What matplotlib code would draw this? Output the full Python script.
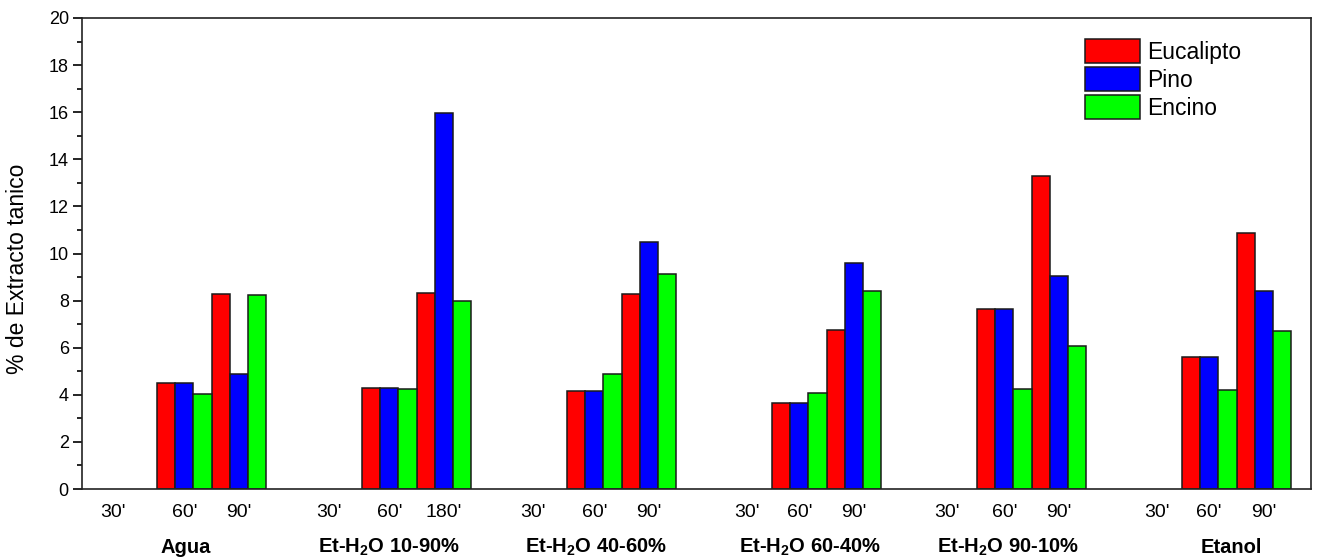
import matplotlib
matplotlib.use("Agg")
import matplotlib.pyplot as plt
from matplotlib.patches import Patch
from matplotlib.ticker import MultipleLocator
import matplotlib.transforms as mtransforms

plt.rcParams["font.family"] = ["Liberation Sans", "DejaVu Sans"]
plt.rcParams["mathtext.fontset"] = "custom"
plt.rcParams["mathtext.rm"] = "Liberation Sans"
plt.rcParams["mathtext.bf"] = "Liberation Sans:bold"

# Solvent systems
groups = ["Agua", "Et-H$_\\mathbf{2}$O 10-90%", "Et-H$_\\mathbf{2}$O 40-60%",
          "Et-H$_\\mathbf{2}$O 60-40%", "Et-H$_\\mathbf{2}$O 90-10%", "Etanol"]

# Extraction times shown under each solvent
time_labels = [
    ["30'", "60'", "90'"],
    ["30'", "60'", "180'"],
    ["30'", "60'", "90'"],
    ["30'", "60'", "90'"],
    ["30'", "60'", "90'"],
    ["30'", "60'", "90'"],
]

species = ["Eucalipto", "Pino", "Encino"]

# % tannic extract at the intermediate time (60')
eucalipto_mid = [4.49, 4.28, 4.16, 3.67, 7.64, 5.59]
pino_mid = [4.49, 4.28, 4.16, 3.67, 7.64, 5.59]
encino_mid = [4.02, 4.23, 4.88, 4.08, 4.26, 4.19]

# % tannic extract at the longest time (90' / 180')
eucalipto_long = [8.28, 8.34, 8.27, 6.74, 13.30, 10.87]
pino_long = [4.87, 15.98, 10.50, 9.58, 9.03, 8.41]
encino_long = [8.25, 7.97, 9.14, 8.42, 6.07, 6.71]

colors = ["#FF0000", "#0000FF", "#00FF00"]

# ---- layout (in bar-width units) ----
BAR_W = 1.0
GROUP_PITCH = 11.28
XLIM = (-4.13, 63.5)
short_tick_shift = [-2.4, -1.8, -1.9, -1.4, -1.65, -1.4]
group_label_shift = [1.6, 1.5, 1.6, 2.1, 1.7, 2.7]

fig = plt.figure(figsize=(13.18, 5.59), dpi=100)
ax = fig.add_axes([0.0622, 0.1252, 0.9325, 0.8426])

mid_series = [eucalipto_mid, pino_mid, encino_mid]
long_series = [eucalipto_long, pino_long, encino_long]

for k, (name, col) in enumerate(zip(species, colors)):
    xs_mid = [g * GROUP_PITCH + k * BAR_W for g in range(len(groups))]
    xs_long = [g * GROUP_PITCH + (3 + k) * BAR_W for g in range(len(groups))]
    ax.bar(xs_mid, mid_series[k], width=BAR_W, align="edge", color=col,
           edgecolor="#1a1a1a", linewidth=1.1, label=name)
    ax.bar(xs_long, long_series[k], width=BAR_W, align="edge", color=col,
           edgecolor="#1a1a1a", linewidth=1.1)

ax.set_xlim(*XLIM)
ax.set_ylim(0, 20)
ax.yaxis.set_major_locator(MultipleLocator(2))
ax.yaxis.set_minor_locator(MultipleLocator(1))
ax.tick_params(axis="y", which="major", direction="out", length=6.5, width=1.2,
               labelsize=13, pad=3)
ax.tick_params(axis="y", which="minor", direction="out", length=3.6, width=1.2)
ax.tick_params(axis="x", which="both", bottom=False, labelbottom=False)

for side in ["left", "right", "top", "bottom"]:
    ax.spines[side].set_linewidth(1.2)
    ax.spines[side].set_color("#222222")

ax.set_ylabel("% de Extracto tanico", fontsize=16.5)
ax.yaxis.set_label_coords(-0.043, 0.468)

trans = mtransforms.blended_transform_factory(ax.transData, ax.transAxes)
for g in range(len(groups)):
    base = g * GROUP_PITCH
    tick_x = [base + short_tick_shift[g], base + 1.5 * BAR_W, base + 4.5 * BAR_W]
    for tx, lab in zip(tick_x, time_labels[g]):
        ax.text(tx, -0.0594, lab, transform=trans, ha="center", va="baseline",
                fontsize=14)
    ax.text(base + group_label_shift[g], -0.1359, groups[g], transform=trans,
            ha="center", va="baseline", fontsize=14.5, fontweight="bold")

handles = [Patch(facecolor=c, edgecolor="#1a1a1a", linewidth=1.1) for c in colors]
ax.legend(handles, species, loc="upper left", bbox_to_anchor=(0.816, 0.955),
          frameon=False, fontsize=16.5, handlelength=2.4, handleheight=1.2,
          labelspacing=0.15, handletextpad=0.32, borderpad=0, borderaxespad=0)

fig.savefig("out.png", dpi=100)
